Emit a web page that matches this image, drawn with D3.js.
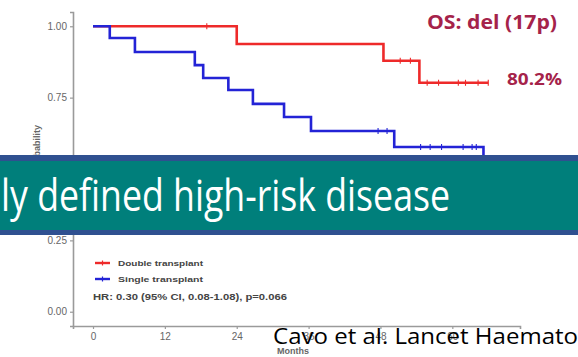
<!DOCTYPE html>
<html>
<head>
<meta charset="utf-8">
<script src="https://cdn.jsdelivr.net/npm/d3@7"></script>
<style>
  html, body { margin: 0; padding: 0; background: #fff; }
  svg { display: block; }
</style>
</head>
<body>
<svg id="chart" width="578" height="357"></svg>
<script>
// Kaplan-Meier overall survival, del(17p) subgroup
const xTicks = [0, 12, 24, 36, 48, 60];
const yTicks = [0, 0.25, 0.5, 0.75, 1.0];

// Double transplant arm: event times (months) and survival after each step
const doubleTime = [0, 24.0, 48.5, 54.5];
const doubleSurv = [1.0, 0.938, 0.879, 0.802];
const doubleEnd = 66.0;
const doubleCensor = [19.0, 51.3, 53.0, 55.8, 57.7, 61.0, 62.2, 64.3, 66.0];

// Single transplant arm
const singleTime = [0, 2.8, 7.0, 17.0, 18.4, 22.6, 26.7, 31.9, 36.4, 50.3, 65.2];
const singleSurv = [1.0, 0.959, 0.910, 0.864, 0.819, 0.777, 0.728, 0.682, 0.633, 0.577, 0.481];
const singleEnd = 66.0;
const singleCensor = [47.6, 49.1, 54.7, 56.3, 58.2, 61.8, 63.3, 64.0];

const legendLabels = ["Double transplant", "Single transplant"];
const hrText = "HR: 0.30 (95% CI, 0.08-1.08), p=0.066";
const finalLabel = "80.2%";

const svg = d3.select("#chart");
const x = d3.scaleLinear().domain([-3.34, 71.3]).range([73, 520]);
const y = d3.scaleLinear().domain([-0.05, 1.05]).range([326, 12]);

const axisGrey = "#9a9a9a";
const labelGrey = "#666";

// Axes
const gx = svg.append("g").attr("transform", `translate(0,${y.range()[0]})`)
  .call(d3.axisBottom(x).tickValues(xTicks).tickSize(3).tickPadding(4));
const gy = svg.append("g").attr("transform", `translate(${x.range()[0]},0)`)
  .call(d3.axisLeft(y).tickValues(yTicks).tickFormat(d3.format(".2f")).tickSize(3).tickPadding(3));
[gx, gy].forEach(g => {
  g.select(".domain").attr("stroke", axisGrey).attr("stroke-width", 1.6);
  g.selectAll(".tick line").attr("stroke", axisGrey).attr("stroke-width", 1.2);
  g.selectAll(".tick text").attr("fill", labelGrey)
    .style("font-family", "'Liberation Sans', Arial, sans-serif").style("font-size", "10px");
});

// Axis titles
svg.append("text").attr("x", 293).attr("y", 354).attr("text-anchor", "middle")
  .attr("fill", labelGrey).style("font-family", "'Liberation Sans', Arial, sans-serif")
  .style("font-size", "9px").style("font-weight", "bold").text("Months");
svg.append("text").attr("transform", "translate(40,125) rotate(-90)").attr("text-anchor", "end")
  .attr("fill", labelGrey).style("font-family", "'Liberation Sans', Arial, sans-serif")
  .style("font-size", "9px").style("font-weight", "bold").text("Survival probability");

// Survival curves
const step = d3.line().x(d => x(d[0])).y(d => y(d[1])).curve(d3.curveStepAfter);
function drawArm(times, surv, end, censor, color) {
  const pts = times.map((t, i) => [t, surv[i]]);
  pts.push([end, surv[surv.length - 1]]);
  svg.append("path").attr("d", step(pts)).attr("fill", "none")
    .attr("stroke", color).attr("stroke-width", 2.6);
  const survAt = t => { let s = 1; times.forEach((tt, i) => { if (tt <= t) s = surv[i]; }); return s; };
  svg.append("g").selectAll("line").data(censor).join("line")
    .attr("x1", d => x(d)).attr("x2", d => x(d))
    .attr("y1", d => y(survAt(d)) - 3).attr("y2", d => y(survAt(d)) + 3)
    .attr("stroke", color).attr("stroke-width", 1.1);
}
drawArm(doubleTime, doubleSurv, doubleEnd, doubleCensor, "#ee2a2a");
drawArm(singleTime, singleSurv, singleEnd, singleCensor, "#2323d6");

// Legend
const legendColors = ["#ee2a2a", "#2323d6"];
legendLabels.forEach((lab, i) => {
  const ly = 263 + i * 16;
  svg.append("line").attr("x1", 95).attr("x2", 110).attr("y1", ly).attr("y2", ly)
    .attr("stroke", legendColors[i]).attr("stroke-width", 2.4);
  svg.append("line").attr("x1", 102.5).attr("x2", 102.5).attr("y1", ly - 2.5).attr("y2", ly + 2.5)
    .attr("stroke", legendColors[i]).attr("stroke-width", 1.2);
  svg.append("text").attr("x", 118).attr("y", ly + 3).attr("fill", "#444")
    .attr("textLength", 85).attr("lengthAdjust", "spacingAndGlyphs")
    .style("font-family", "'Liberation Sans', Arial, sans-serif").style("font-size", "8px")
    .style("font-weight", "bold").text(lab);
});
svg.append("text").attr("x", 93).attr("y", 300).attr("fill", "#444")
  .attr("textLength", 194).attr("lengthAdjust", "spacingAndGlyphs")
  .style("font-family", "'Liberation Sans', Arial, sans-serif").style("font-size", "8.5px")
  .style("font-weight", "bold").text(hrText);

// Headline and final survival value
const accent = "#a5234a";
svg.append("text").attr("x", 427).attr("y", 29).attr("fill", accent)
  .attr("textLength", 130).attr("lengthAdjust", "spacingAndGlyphs")
  .style("font-family", "'Open Sans', 'Noto Sans', sans-serif").style("font-size", "19px")
  .style("font-weight", "bold").text("OS: del (17p)");
svg.append("text").attr("x", 507).attr("y", 85).attr("fill", accent)
  .attr("textLength", 55).attr("lengthAdjust", "spacingAndGlyphs")
  .style("font-family", "'Open Sans', 'Noto Sans', sans-serif").style("font-size", "16px")
  .style("font-weight", "bold").text(finalLabel);

// Section banner
svg.append("rect").attr("x", 0).attr("y", 155).attr("width", 578).attr("height", 80).attr("fill", "#2f5090");
svg.append("rect").attr("x", 0).attr("y", 161).attr("width", 578).attr("height", 69).attr("fill", "#007f7b");
svg.append("text").attr("x", 1).attr("y", 211).attr("fill", "#fff")
  .attr("textLength", 449).attr("lengthAdjust", "spacingAndGlyphs")
  .style("font-family", "'Open Sans', 'Noto Sans', sans-serif").style("font-size", "43px")
  .text("ly defined high-risk disease");

// Citation
svg.append("text").attr("x", 273).attr("y", 344).attr("fill", "#000")
  .attr("textLength", 305).attr("lengthAdjust", "spacingAndGlyphs")
  .style("font-family", "'Open Sans', 'Noto Sans', sans-serif").style("font-size", "21px")
  .text("Cavo et al. Lancet Haemato");
</script>
</body>
</html>
